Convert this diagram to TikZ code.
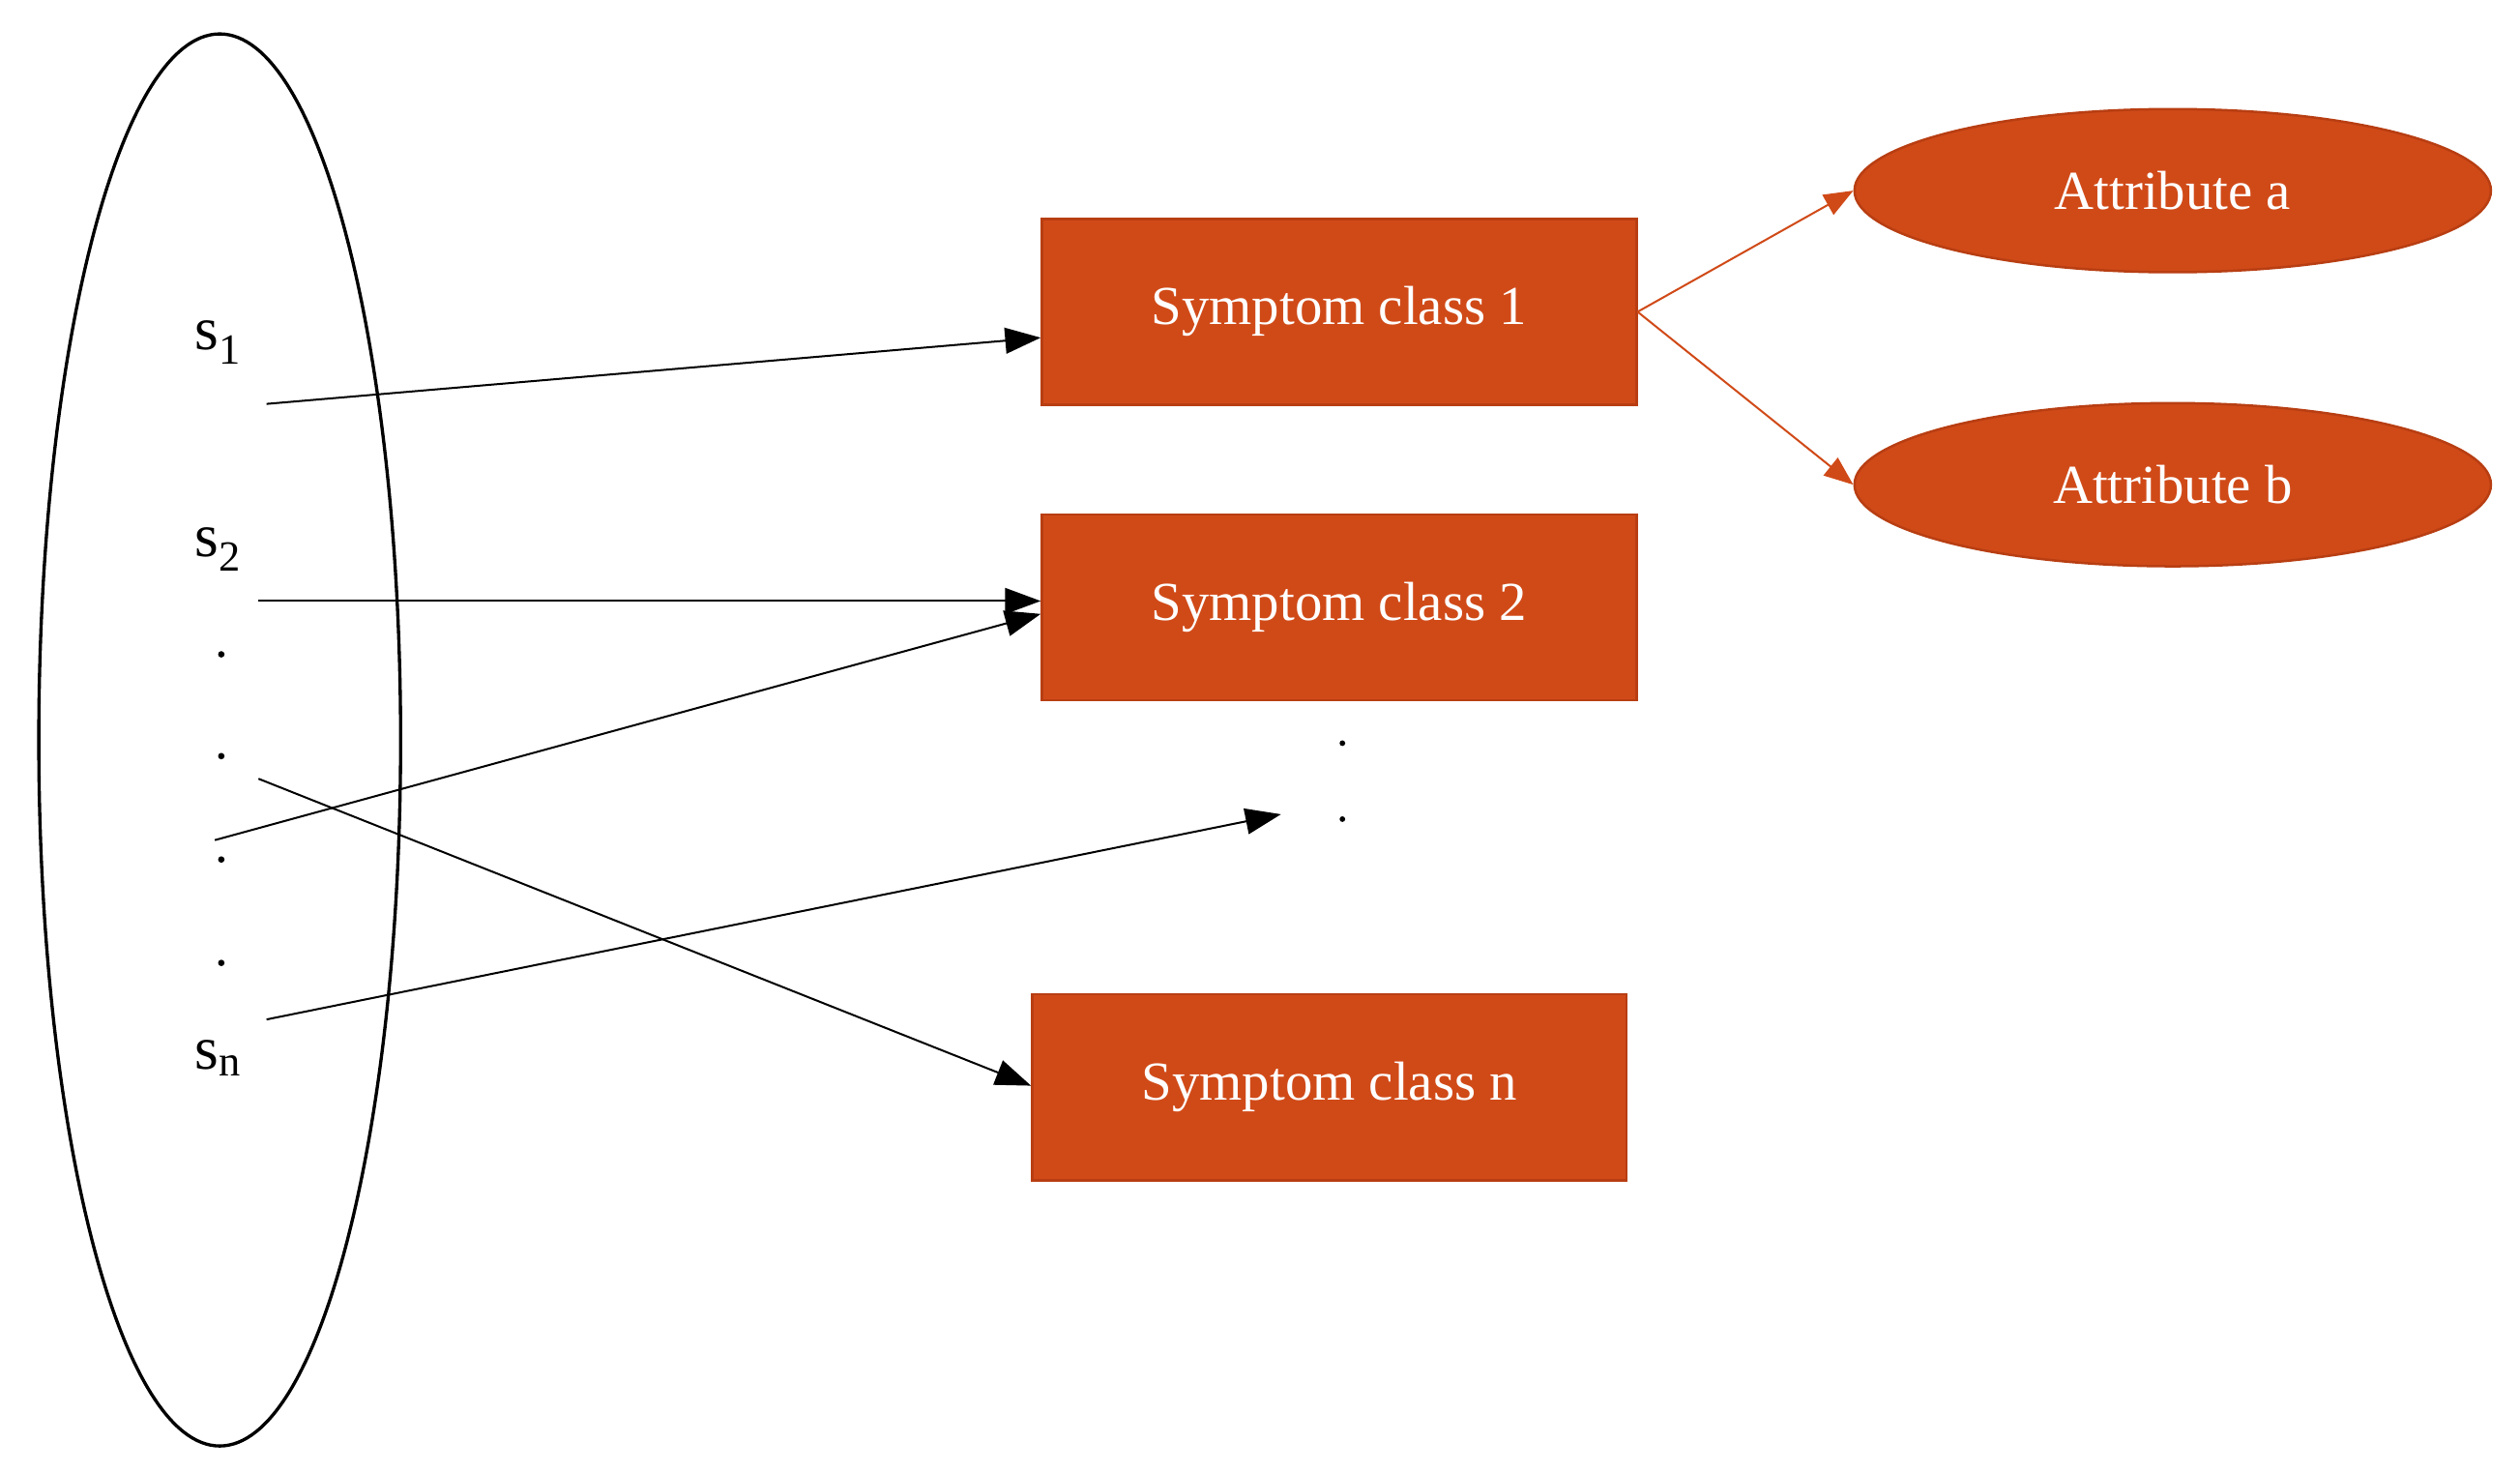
\documentclass[tikz,border=0pt]{standalone}
\usepackage{fontspec}
\setmainfont{Liberation Serif}
\usetikzlibrary{shapes.geometric,arrows.meta}
\definecolor{org}{HTML}{D04A18}
\definecolor{orgd}{HTML}{B83E12}
\begin{document}
\begin{tikzpicture}[x=1pt,y=-1pt,
  box/.style={draw=orgd,line width=1.5pt,fill=org,text=white,minimum width=368pt,minimum height=115pt,font=\fontsize{34}{40}\selectfont},
  att/.style={ellipse,draw=orgd,line width=1.5pt,fill=org,text=white,minimum width=394pt,minimum height=101pt,font=\fontsize{34}{40}\selectfont},
  lab/.style={font=\fontsize{38}{44}\selectfont},
  dot/.style={circle,fill=black,inner sep=0pt,minimum size=4pt},
  arr/.style={line width=1.2pt,-{Triangle[length=22pt,width=16pt]}},
  oarr/.style={draw=org,line width=1.2pt,-{Triangle[length=18pt,width=14pt]}}]
\useasboundingbox (0,0) rectangle (1560,910);
\draw[line width=2pt] (136,458) ellipse [x radius=112,y radius=437];
\node[lab] (s1) at (135,212) {s\textsubscript{1}};
\node[lab] (s2) at (135,340) {s\textsubscript{2}};
\node[lab] (sn) at (135,655) {s\textsubscript{n}};
\node[dot] (d1) at (137,405) {};
\node[dot] (d2) at (137,468) {};
\node[dot] (d3) at (137,532) {};
\node[dot] (d4) at (137,596) {};
\node[box] (b1) at (829,193) {Symptom class 1};
\node[box] (b2) at (829,376) {Symptom class 2};
\node[box] (bn) at (823,673) {Symptom class n};
\node[att] (aa) at (1345,118) {Attribute a};
\node[att] (ab) at (1345,300) {Attribute b};
\node[dot,minimum size=3.5pt] (e1) at (831,460) {};
\node[dot,minimum size=3.5pt] (e2) at (831,507) {};
\coordinate (p1) at (165,250);
\coordinate (p2) at (160,372);
\coordinate (p3) at (133,520);
\coordinate (p4) at (160,482);
\coordinate (p5) at (165,631);
\coordinate (q5) at (793,504);
\draw[arr] (p1) -- (b1.west |- 0,209);
\draw[arr] (p2) -- (b2.west |- 0,372);
\draw[arr] (p3) -- (b2.west |- 0,380);
\draw[arr] (p4) -- (bn.west |- 0,672);
\draw[arr] (p5) -- (q5);
\draw[oarr] (b1.east) -- (aa.west);
\draw[oarr] (b1.east) -- (ab.west);
\end{tikzpicture}
\end{document}
